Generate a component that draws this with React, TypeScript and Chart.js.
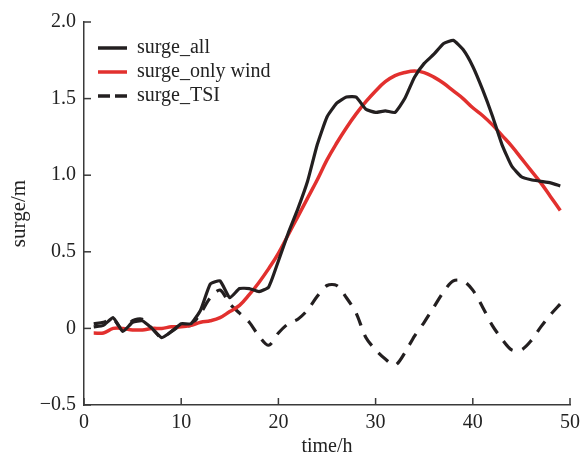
import { useEffect, useRef } from 'react';
import { Chart, registerables } from 'chart.js';

Chart.register(...registerables);

const hours = [1, 2, 3, 4, 5, 6, 7, 8, 9, 10, 11, 12, 13, 14, 15, 16, 17, 18, 19, 20, 21, 22, 23, 24, 25, 26, 27, 28, 29, 30, 31, 32, 33, 34, 35, 36, 37, 38, 39, 40, 41, 42, 43, 44, 45, 46, 47, 48, 49];

const surgeAll = [0.01, 0.02, 0.07, -0.02, 0.04, 0.05, 0.0, -0.06, -0.02, 0.03, 0.03, 0.12, 0.29, 0.31, 0.2, 0.26, 0.26, 0.24, 0.27, 0.44, 0.62, 0.78, 0.96, 1.2, 1.38, 1.47, 1.51, 1.51, 1.43, 1.41, 1.42, 1.41, 1.5, 1.64, 1.73, 1.79, 1.86, 1.88, 1.82, 1.71, 1.56, 1.39, 1.2, 1.06, 0.99, 0.97, 0.96, 0.95, 0.93];

const surgeOnlyWind = [-0.03, -0.03, 0.0, 0.0, -0.01, -0.01, 0.0, 0.0, 0.01, 0.01, 0.02, 0.04, 0.05, 0.07, 0.11, 0.15, 0.22, 0.3, 0.39, 0.49, 0.61, 0.73, 0.85, 0.97, 1.1, 1.21, 1.31, 1.4, 1.48, 1.55, 1.61, 1.65, 1.67, 1.68, 1.67, 1.64, 1.6, 1.55, 1.5, 1.44, 1.39, 1.33, 1.26, 1.19, 1.11, 1.03, 0.95, 0.86, 0.77];

const surgeTSI = [0.03, 0.04, 0.06, -0.01, 0.05, 0.06, 0.0, -0.06, -0.02, 0.02, 0.02, 0.1, 0.2, 0.25, 0.16, 0.1, 0.04, -0.05, -0.11, -0.03, 0.03, 0.06, 0.12, 0.21, 0.28, 0.28, 0.2, 0.1, -0.06, -0.14, -0.2, -0.24, -0.16, -0.05, 0.04, 0.14, 0.24, 0.31, 0.31, 0.25, 0.14, 0.02, -0.07, -0.14, -0.14, -0.08, 0.01, 0.09, 0.16];

const xTickValues = [0, 10, 20, 30, 40, 50];
const yTickValues = [-0.5, 0, 0.5, 1.0, 1.5, 2.0];
const seriesLabels = ['surge_all', 'surge_only wind', 'surge_TSI'];

const BLACK = '#231f20';
const RED = '#e2302e';
const AXIS = '#3a3a3a';
const FONT = "'Liberation Serif', 'DejaVu Serif', serif";

const fmtY = (v: number) => (v === 0 ? '0' : v < 0 ? '\u2212' + Math.abs(v).toFixed(1) : v.toFixed(1));

const innerTicks = {
  id: 'innerTicks',
  afterDraw(chart: any) {
    const { ctx, chartArea, scales } = chart;
    ctx.save();
    ctx.strokeStyle = AXIS;
    ctx.lineWidth = 1.5;
    scales.x.ticks.forEach((t: any) => {
      const px = scales.x.getPixelForValue(t.value);
      ctx.beginPath();
      ctx.moveTo(px, chartArea.bottom);
      ctx.lineTo(px, chartArea.bottom - 7);
      ctx.stroke();
    });
    scales.y.ticks.forEach((t: any) => {
      const py = scales.y.getPixelForValue(t.value);
      ctx.beginPath();
      ctx.moveTo(chartArea.left, py);
      ctx.lineTo(chartArea.left + 7, py);
      ctx.stroke();
    });
    ctx.restore();
  },
};

const insideLegend = {
  id: 'insideLegend',
  afterDraw(chart: any) {
    const { ctx, chartArea } = chart;
    ctx.save();
    ctx.font = `20px ${FONT}`;
    ctx.textBaseline = 'middle';
    chart.data.datasets.forEach((ds: any, i: number) => {
      const y = chartArea.top + 26 + i * 24;
      const x0 = chartArea.left + 14;
      ctx.strokeStyle = ds.borderColor;
      ctx.lineWidth = 3.5;
      ctx.setLineDash(ds.borderDash && ds.borderDash.length ? [12, 5] : []);
      ctx.beginPath();
      ctx.moveTo(x0, y);
      ctx.lineTo(x0 + 29, y);
      ctx.stroke();
      ctx.setLineDash([]);
      ctx.fillStyle = '#222';
      ctx.fillText(ds.label, x0 + 39, y);
    });
    ctx.restore();
  },
};

export default function App() {
  const ref = useRef<HTMLCanvasElement>(null);

  useEffect(() => {
    if (!ref.current) return;
    const mk = (vals: number[]) => hours.map((h, i) => ({ x: h, y: vals[i] }));
    const chart = new Chart(ref.current, {
      type: 'line',
      data: {
        datasets: [
          {
            label: seriesLabels[0],
            data: mk(surgeAll),
            borderColor: BLACK,
            borderWidth: 3.2,
            pointRadius: 0,
            tension: 0.15,
            borderDash: [],
          },
          {
            label: seriesLabels[1],
            data: mk(surgeOnlyWind),
            borderColor: RED,
            borderWidth: 3.5,
            pointRadius: 0,
            tension: 0.4,
            borderDash: [],
          },
          {
            label: seriesLabels[2],
            data: mk(surgeTSI),
            borderColor: BLACK,
            borderWidth: 3.2,
            pointRadius: 0,
            tension: 0.3,
            borderDash: [13, 10],
          },
        ],
      },
      options: {
        responsive: false,
        animation: false,
        layout: { padding: { top: 22, right: 13, left: 0, bottom: 0 } },
        plugins: {
          legend: { display: false },
          tooltip: { enabled: false },
        },
        scales: {
          x: {
            type: 'linear',
            min: 0,
            max: 50,
            afterBuildTicks: (s: any) => {
              s.ticks = xTickValues.map((v) => ({ value: v }));
            },
            afterFit: (s: any) => {
              s.height = 50;
            },
            grid: { display: false, drawTicks: false },
            border: { display: true, color: AXIS, width: 1.5 },
            ticks: {
              color: '#222',
              font: { family: FONT, size: 20 },
              padding: 6,
              maxRotation: 0,
            },
            title: {
              display: true,
              text: 'time/h',
              color: '#222',
              font: { family: FONT, size: 20 },
              padding: { top: 4, bottom: -4 },
            },
          },
          y: {
            type: 'linear',
            min: -0.5,
            max: 2.0,
            afterBuildTicks: (s: any) => {
              s.ticks = yTickValues.map((v) => ({ value: v }));
            },
            afterFit: (s: any) => {
              s.width = 84;
            },
            grid: { display: false, drawTicks: false },
            border: { display: true, color: AXIS, width: 1.5 },
            ticks: {
              color: '#222',
              font: { family: FONT, size: 20 },
              padding: 8,
              callback: (v: any) => fmtY(Number(v)),
            },
            title: {
              display: true,
              text: 'surge/m',
              color: '#222',
              font: { family: FONT, size: 21 },
              padding: { top: 7, bottom: 0 },
            },
          },
        },
      },
      plugins: [innerTicks, insideLegend],
    } as any);
    return () => chart.destroy();
  }, []);

  return (
    <div style={{ position: 'fixed', left: 0, top: 0, width: 586, height: 455, background: '#fff' }}>
      <canvas ref={ref} width={586} height={455} style={{ display: 'block' }} />
    </div>
  );
}
